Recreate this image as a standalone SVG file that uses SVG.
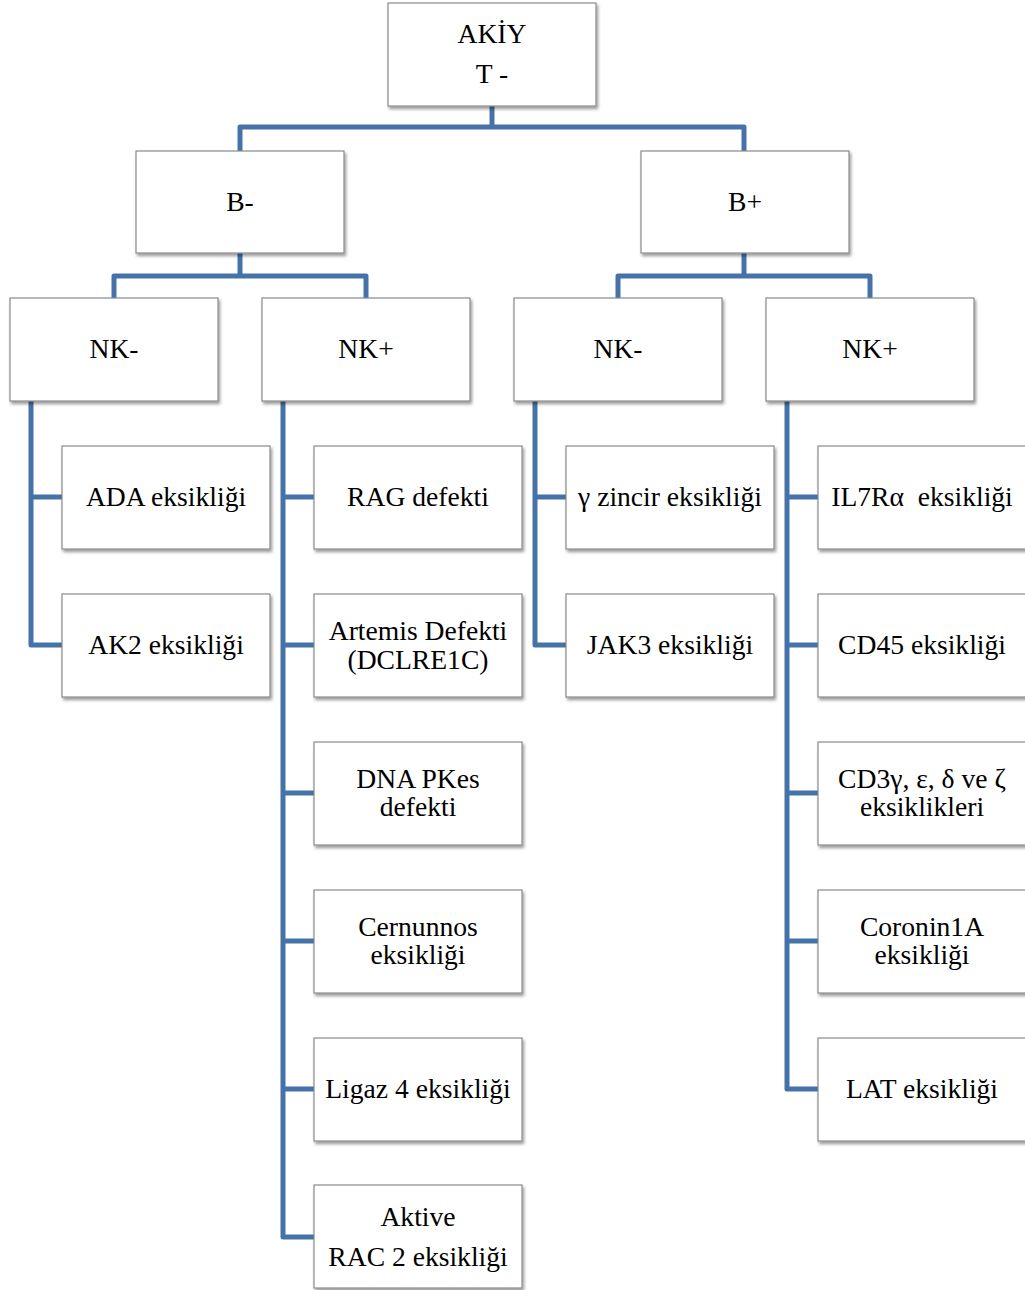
<svg xmlns="http://www.w3.org/2000/svg" width="1025" height="1290" viewBox="0 0 1025 1290">
<style>
.box{fill:#fff;stroke:#8a8a8a;stroke-width:1.2;filter:url(#sh)}
.t{font-family:"Liberation Serif","Times New Roman",serif;font-size:27.6px;fill:#000;text-anchor:middle}
.c{fill:none;stroke:#4672aa;stroke-width:5;stroke-linejoin:round;stroke-linecap:butt}
</style>
<defs>
<filter id="sh" x="-10%" y="-10%" width="125%" height="130%">
<feDropShadow dx="1.5" dy="2.5" stdDeviation="1.5" flood-color="#000" flood-opacity="0.4"/>
</filter>
</defs>
<rect width="1025" height="1290" fill="#fff"/>
<g id="connectors">
<path class="c" d="M492 106 V127 M240 151 V127 H744 V151"/>
<path class="c" d="M240 253 V276 M114 298 V276 H366 V298"/>
<path class="c" d="M744 253 V276 M618 298 V276 H870 V298"/>
<path class="c" d="M31 401 V645 H62 M31 497 H62"/>
<path class="c" d="M283 401 V1237 H314 M283 497 H314 M283 645 H314 M283 793 H314 M283 941 H314 M283 1089 H314"/>
<path class="c" d="M535 401 V645 H566 M535 497 H566"/>
<path class="c" d="M787 401 V1089 H818 M787 497 H818 M787 645 H818 M787 793 H818 M787 941 H818"/>
</g>
<g id="n-root"><rect class="box" x="388" y="3" width="208" height="103"/><text class="t" x="492" y="43">AKİY</text><text class="t" x="492" y="83">T -</text></g>
<g id="n-bminus"><rect class="box" x="136" y="151" width="208" height="102"/><text class="t" x="240" y="211">B-</text></g>
<g id="n-bplus"><rect class="box" x="641" y="151" width="208" height="102"/><text class="t" x="745" y="211">B+</text></g>
<g id="n-nk1"><rect class="box" x="10" y="298" width="208" height="103"/><text class="t" x="114" y="358">NK-</text></g>
<g id="n-nk2"><rect class="box" x="262" y="298" width="208" height="103"/><text class="t" x="366" y="358">NK+</text></g>
<g id="n-nk3"><rect class="box" x="514" y="298" width="208" height="103"/><text class="t" x="618" y="358">NK-</text></g>
<g id="n-nk4"><rect class="box" x="766" y="298" width="208" height="103"/><text class="t" x="870" y="358">NK+</text></g>
<g id="n-ada"><rect class="box" x="62" y="446" width="208" height="103"/><text class="t" x="166" y="506">ADA eksikliği</text></g>
<g id="n-ak2"><rect class="box" x="62" y="594" width="208" height="103"/><text class="t" x="166" y="654">AK2 eksikliği</text></g>
<g id="n-rag"><rect class="box" x="314" y="446" width="208" height="103"/><text class="t" x="418" y="506">RAG defekti</text></g>
<g id="n-artemis"><rect class="box" x="314" y="594" width="208" height="103"/><text class="t" x="418" y="640">Artemis Defekti</text><text class="t" x="418" y="669">(DCLRE1C)</text></g>
<g id="n-dnapk"><rect class="box" x="314" y="742" width="208" height="103"/><text class="t" x="418" y="788">DNA PKes</text><text class="t" x="418" y="816">defekti</text></g>
<g id="n-cernunnos"><rect class="box" x="314" y="890" width="208" height="103"/><text class="t" x="418" y="936">Cernunnos</text><text class="t" x="418" y="964">eksikliği</text></g>
<g id="n-ligaz"><rect class="box" x="314" y="1038" width="208" height="103"/><text class="t" x="418" y="1098">Ligaz 4 eksikliği</text></g>
<g id="n-rac2"><rect class="box" x="314" y="1185" width="208" height="103"/><text class="t" x="418" y="1226">Aktive</text><text class="t" x="418" y="1266">RAC 2 eksikliği</text></g>
<g id="n-gamma"><rect class="box" x="566" y="446" width="208" height="103"/><text class="t" x="670" y="506">γ zincir eksikliği</text></g>
<g id="n-jak3"><rect class="box" x="566" y="594" width="208" height="103"/><text class="t" x="670" y="654">JAK3 eksikliği</text></g>
<g id="n-il7"><rect class="box" x="818" y="446" width="210" height="103"/><text class="t" x="922" y="506" xml:space="preserve">IL7Rα  eksikliği</text></g>
<g id="n-cd45"><rect class="box" x="818" y="594" width="210" height="103"/><text class="t" x="922" y="654">CD45 eksikliği</text></g>
<g id="n-cd3"><rect class="box" x="818" y="742" width="210" height="103"/><text class="t" x="922" y="788">CD3γ, ε, δ ve ζ</text><text class="t" x="922" y="816">eksiklikleri</text></g>
<g id="n-coronin"><rect class="box" x="818" y="890" width="210" height="103"/><text class="t" x="922" y="936">Coronin1A</text><text class="t" x="922" y="964">eksikliği</text></g>
<g id="n-lat"><rect class="box" x="818" y="1038" width="210" height="103"/><text class="t" x="922" y="1098">LAT eksikliği</text></g>
</svg>
